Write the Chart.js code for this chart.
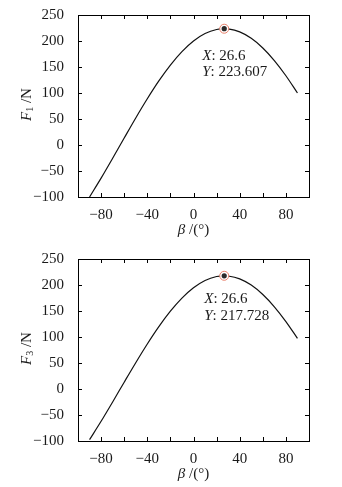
<!DOCTYPE html>
<html>
<head>
<meta charset="utf-8">
<script src="https://cdn.jsdelivr.net/npm/chart.js@4.4.1/dist/chart.umd.min.js"></script>
<style>
  html, body { margin: 0; padding: 0; background: #fff; }
  canvas { display: block; }
</style>
</head>
<body>
<canvas id="chartF1" width="342" height="243"></canvas>
<canvas id="chartF3" width="342" height="244"></canvas>
<script>
// values
const betaDeg = [-90, -80, -70, -60, -50, -40, -30, -20, -10, 0, 10, 20, 26.6, 30, 40, 50, 60, 70, 80, 90];
const f1Newton = [-100, -63.8, -25.6, 13.4, 52.0, 88.9, 123.2, 153.7, 179.6, 200, 214.3, 222.1, 223.607, 223.2, 217.5, 205.2, 186.6, 162.4, 133.2, 100];
const f3Newton = [-97.4, -62.1, -24.9, 13.1, 50.6, 86.6, 120.0, 149.7, 174.9, 194.7, 208.7, 216.3, 217.728, 217.3, 211.8, 199.8, 181.7, 158.1, 129.7, 97.4];
const peakF1 = { x: 26.6, y: 223.607 };
const peakF3 = { x: 26.6, y: 217.728 };
const xTickLabels = [-80, -40, 0, 40, 80];
const yTickLabels = [-100, -50, 0, 50, 100, 150, 200, 250];

const SERIF = '"Liberation Serif", "Times New Roman", serif';
const TEXT = '#1a1a1a';
const minus = v => String(v).replace('-', '\u2212');

function drawRuns(ctx, runs, x, y, align) {
    let total = 0;
    runs.forEach(r => { ctx.font = r.font; r.w = ctx.measureText(r.t).width; total += r.w; });
    let cx = align === 'center' ? x - total / 2 : x;
    runs.forEach(r => {
        ctx.font = r.font;
        ctx.fillText(r.t, cx, y + (r.dy || 0));
        cx += r.w;
    });
}

// frame box with inward ticks on all four sides
const framePlugin = {
    id: 'frame',
    afterDraw(chart) {
        const { ctx, chartArea: a, scales: { x, y } } = chart;
        ctx.save();
        ctx.strokeStyle = '#000';
        ctx.lineWidth = 1;
        ctx.strokeRect(a.left + 0.5, a.top + 0.5, a.right - a.left, a.bottom - a.top);
        ctx.beginPath();
        const len = 4;
        for (let v = -80; v <= 80; v += 20) {
            const px = Math.round(x.getPixelForValue(v)) + 0.5;
            ctx.moveTo(px, a.top); ctx.lineTo(px, a.top + len);
            ctx.moveTo(px, a.bottom); ctx.lineTo(px, a.bottom - len);
        }
        for (let v = -50; v <= 200; v += 50) {
            const py = Math.round(y.getPixelForValue(v)) + 0.5;
            ctx.moveTo(a.left, py); ctx.lineTo(a.left + len, py);
            ctx.moveTo(a.right, py); ctx.lineTo(a.right - len, py);
        }
        ctx.stroke();
        ctx.restore();
    }
};

// axis titles and the data tip text
const textPlugin = {
    id: 'figText',
    afterDraw(chart, args, opts) {
        const { ctx, chartArea: a } = chart;
        ctx.save();
        ctx.fillStyle = TEXT;
        ctx.textBaseline = 'middle';
        ctx.textAlign = 'left';

        drawRuns(ctx, [
            { t: '\u03b2', font: 'italic 15px ' + SERIF },
            { t: ' /(\u00b0)', font: '15px ' + SERIF }
        ], (a.left + a.right) / 2, a.bottom + 33, 'center');

        ctx.save();
        ctx.translate(27, (a.top + a.bottom) / 2 - 1.5);
        ctx.rotate(-Math.PI / 2);
        drawRuns(ctx, [
            { t: 'F', font: 'italic 15px ' + SERIF },
            { t: opts.sub, font: '10px ' + SERIF, dy: 3 },
            { t: ' /N', font: '15px ' + SERIF }
        ], 0, 0, 'center');
        ctx.restore();

        const p = opts.peak;
        const px = chart.scales.x.getPixelForValue(p.x);
        const py = chart.scales.y.getPixelForValue(p.y);
        drawRuns(ctx, [
            { t: 'X', font: 'italic 15px ' + SERIF },
            { t: ': ' + p.x, font: '15px ' + SERIF }
        ], px + opts.dx, py + opts.dy1, 'left');
        drawRuns(ctx, [
            { t: 'Y', font: 'italic 15px ' + SERIF },
            { t: ': ' + p.y.toFixed(3), font: '15px ' + SERIF }
        ], px + opts.dx, py + opts.dy2, 'left');
        ctx.restore();
    }
};

function makeChart(id, values, peak, sub, topPad, xAxisHeight, tip) {
    return new Chart(document.getElementById(id), {
        type: 'scatter',
        data: {
            datasets: [
                {
                    data: betaDeg.map((b, i) => ({ x: b, y: values[i] })),
                    showLine: true,
                    borderColor: '#111',
                    borderWidth: 1.2,
                    pointRadius: 0,
                    cubicInterpolationMode: 'monotone',
                    order: 3
                },
                {
                    data: [peak],
                    pointRadius: 4.5,
                    pointBackgroundColor: '#fff',
                    pointBorderColor: '#e8806b',
                    pointBorderWidth: 1,
                    order: 2
                },
                {
                    data: [peak],
                    pointRadius: 2.6,
                    pointBackgroundColor: '#2b2b2b',
                    pointBorderWidth: 0,
                    order: 1
                }
            ]
        },
        options: {
            responsive: false,
            animation: false,
            devicePixelRatio: 1,
            layout: { padding: { top: topPad, right: 33, left: 0, bottom: 0 } },
            plugins: {
                legend: { display: false },
                tooltip: { enabled: false },
                figText: { sub: sub, peak: peak, dx: tip.dx, dy1: tip.dy1, dy2: tip.dy2 }
            },
            scales: {
                x: {
                    type: 'linear',
                    min: -100,
                    max: 100,
                    grid: { display: false },
                    border: { display: false },
                    ticks: {
                        stepSize: 20,
                        autoSkip: false,
                        maxRotation: 0,
                        padding: 1,
                        color: TEXT,
                        font: { family: SERIF, size: 15 },
                        callback: v => xTickLabels.includes(v) ? minus(v) : ''
                    },
                    afterFit: s => { s.height = xAxisHeight; }
                },
                y: {
                    min: -100,
                    max: 250,
                    grid: { display: false },
                    border: { display: false },
                    ticks: {
                        stepSize: 50,
                        padding: 6,
                        color: TEXT,
                        font: { family: SERIF, size: 15 },
                        callback: v => yTickLabels.includes(v) ? minus(v) : ''
                    },
                    afterFit: s => { s.width = 78; }
                }
            }
        },
        plugins: [framePlugin, textPlugin]
    });
}

makeChart('chartF1', f1Newton, peakF1, '1', 14, 46, { dx: -22, dy1: 27, dy2: 43 });
makeChart('chartF3', f3Newton, peakF3, '3', 16, 46, { dx: -20, dy1: 23.5, dy2: 40 });
</script>
</body>
</html>
